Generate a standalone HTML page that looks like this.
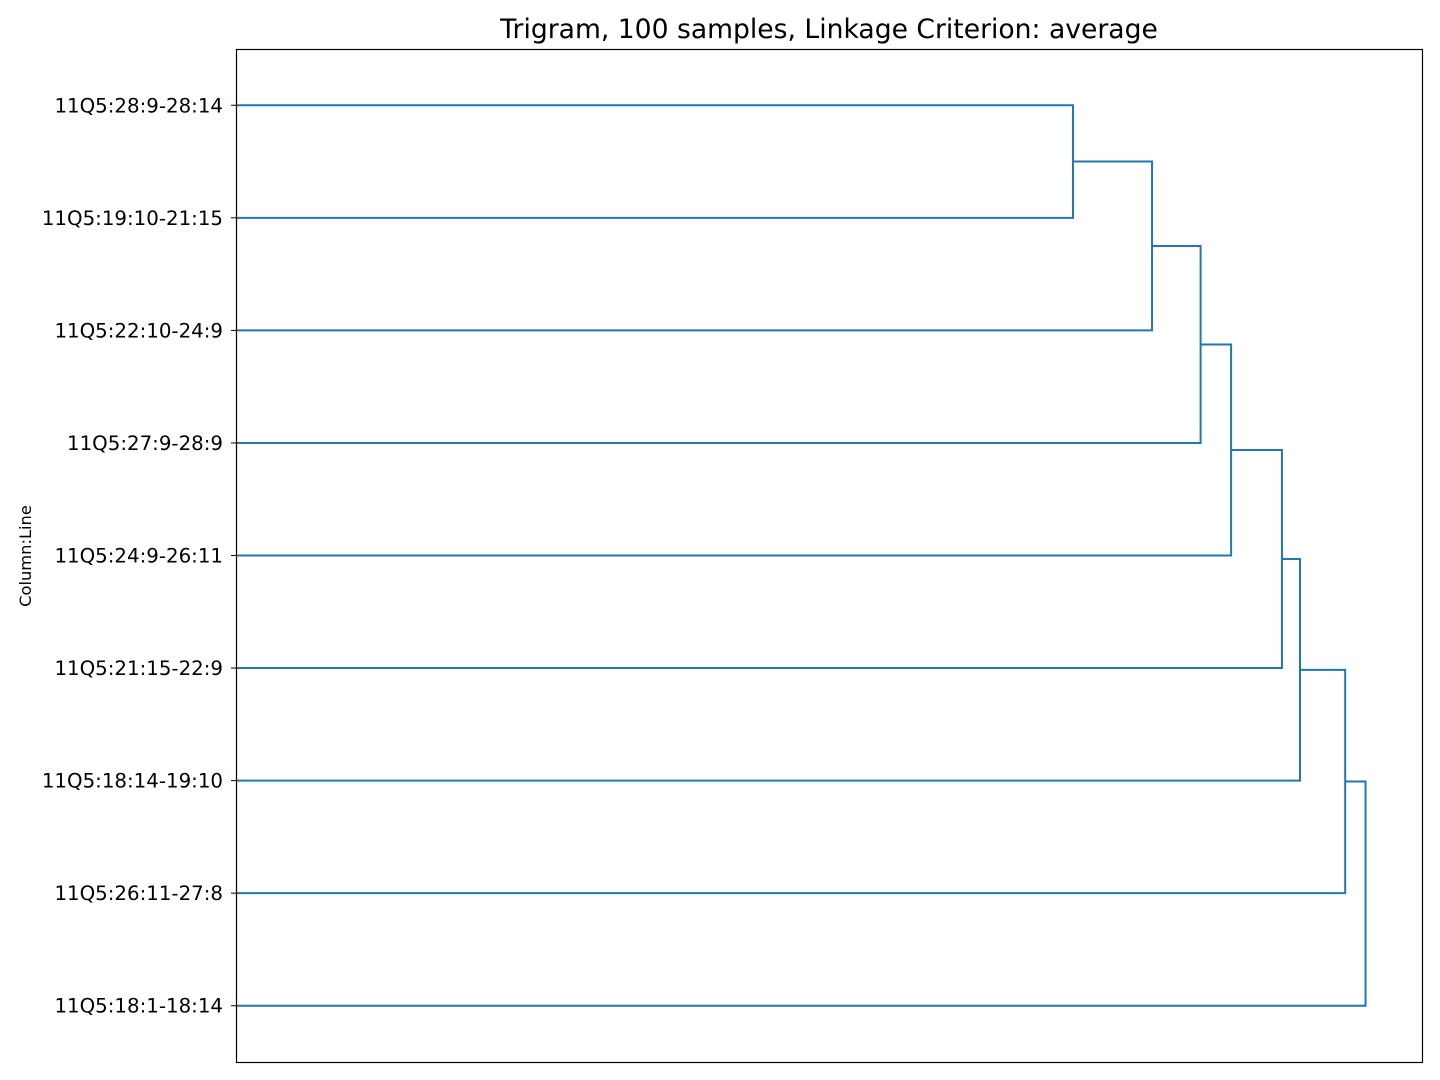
<!DOCTYPE html>
<html><head><meta charset="utf-8"><style>
body{margin:0;background:#fff;}
svg{display:block;font-family:"DejaVu Sans","Liberation Sans",sans-serif;}
</style></head><body>
<svg id="chart" width="1440" height="1080">
<text x="829" y="38" text-anchor="middle" font-size="26.6">Trigram, 100 samples, Linkage Criterion: average</text>
<text transform="translate(31,556) rotate(-90)" text-anchor="middle" font-size="16.3">Column:Line</text>
<g id="links"></g>
<g id="ticks"></g>
<rect x="236.5" y="49.5" width="1186" height="1013" fill="none" stroke="#000" stroke-width="1.2"/>
</svg>
<script>
const leafLabels=["11Q5:28:9-28:14","11Q5:19:10-21:15","11Q5:22:10-24:9","11Q5:27:9-28:9","11Q5:24:9-26:11","11Q5:21:15-22:9","11Q5:18:14-19:10","11Q5:26:11-27:8","11Q5:18:1-18:14"];
// successive merge distances (chain: cluster so far joined with next leaf)
const mergeDistances=[0.741,0.811,0.854,0.881,0.926,0.942,0.982,1.0];
const X0=236,X1=1422,Y0=49,Y1=1062;
const xMax=Math.max(...mergeDistances)*1.05;
const xs=d=>X0+d/xMax*(X1-X0);
const n=leafLabels.length;
const step=(Y1-Y0)/n;
const ys=i=>Y0+step*(i+0.5);
const ns="http://www.w3.org/2000/svg";
const links=document.getElementById('links'),ticks=document.getElementById('ticks');
leafLabels.forEach((l,i)=>{
  const t=document.createElementNS(ns,'text');
  t.setAttribute('x',X0-13);t.setAttribute('y',ys(i)+7);
  t.setAttribute('text-anchor','end');t.setAttribute('font-size','19.8');
  t.textContent=l;
  
  
  ticks.appendChild(t);
  const tk=document.createElementNS(ns,'line');
  tk.setAttribute('x1',X0-5);tk.setAttribute('x2',X0);tk.setAttribute('y1',ys(i));tk.setAttribute('y2',ys(i));
  tk.setAttribute('stroke','#000');
  
  
  ticks.appendChild(tk);
});
let curY=ys(0),curX=0;
mergeDistances.forEach((d,k)=>{
  const leafY=ys(k+1),xm=xs(d);
  const p=document.createElementNS(ns,'path');
  p.setAttribute('d',`M${xs(curX)},${curY}H${xm}V${leafY}H${xs(0)}`);
  p.setAttribute('fill','none');p.setAttribute('stroke','#1f77b4');p.setAttribute('stroke-width','2');
  
  
  links.appendChild(p);
  curY=(curY+leafY)/2;curX=d;
});
</script>
</body></html>
